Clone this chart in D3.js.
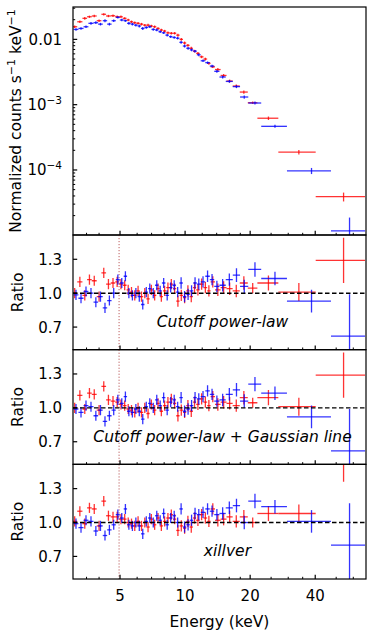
<!DOCTYPE html>
<html>
<head>
<meta charset="utf-8">
<script src="https://cdnjs.cloudflare.com/ajax/libs/d3/7.8.5/d3.min.js"></script>
<style>
  body { margin: 0; background: #fff; }
  svg { font-family: "DejaVu Sans", sans-serif; }
</style>
</head>
<body>
<div id="chart"></div>
<script>
// ---- data ----
// red spectrum: bin edges (keV), counts, ratios for the 3 models, ratio errors
var redEdges = [3.0, 3.17, 3.35, 3.52, 3.70, 3.90, 4.10, 4.31, 4.53, 4.75, 4.95, 5.15, 5.36, 5.55, 5.75, 5.95,
  6.17, 6.40, 6.62, 6.86, 7.10, 7.36, 7.63, 7.90, 8.18, 8.48, 8.79, 9.10, 9.43, 9.78, 10.12, 10.49, 10.87,
  11.25, 11.68, 12.17, 12.65, 13.12, 13.75, 14.6, 15.55, 16.6, 17.9, 19.5, 21.6, 27.0, 40.2, 68.0];
var redCounts = [0.0156, 0.0186, 0.0210, 0.0222, 0.0228, 0.0193, 0.0242, 0.0228, 0.0230, 0.0222, 0.0222, 0.0210,
  0.0198, 0.0186, 0.0180, 0.0176, 0.0171, 0.0165, 0.0165, 0.0160, 0.0156, 0.0147, 0.0139, 0.0134, 0.0126,
  0.0124, 0.0124, 0.0116, 0.0100, 0.0088, 0.0081, 0.0073, 0.0066, 0.0061, 0.0054, 0.0050, 0.0043, 0.0038,
  0.00345, 0.0028, 0.0023, 0.00193, 0.00156, 0.00107, 0.00062, 0.000187, 0.000039];
var redCutoff = [1.00, 1.10, 0.98, 1.12, 1.11, 0.97, 1.18, 1.08, 1.09, 1.10, 1.08, 1.07, 1.03, 1.01, 0.98, 1.02,
  0.97, 1.00, 0.95, 1.03, 0.98, 1.04, 0.97, 1.02, 1.05, 1.08, 1.04, 0.93, 0.98, 0.96, 1.02, 0.97, 1.05, 1.03,
  1.08, 1.05, 1.02, 1.10, 1.03, 1.05, 1.04, 1.02, 1.09, 1.045, 1.09, 1.01, 1.29];
var redGauss = [1.00, 1.11, 0.99, 1.13, 1.12, 0.98, 1.19, 1.07, 1.06, 1.05, 1.03, 1.02, 0.99, 0.98, 0.96, 1.00,
  0.96, 1.00, 0.95, 1.03, 0.98, 1.04, 0.97, 1.02, 1.05, 1.08, 1.04, 0.93, 0.98, 0.96, 1.02, 0.97, 1.05, 1.03,
  1.08, 1.05, 1.02, 1.10, 1.03, 1.05, 1.04, 1.02, 1.09, 1.045, 1.09, 1.01, 1.29];
var redXillver = [1.01, 1.10, 0.99, 1.13, 1.12, 0.97, 1.19, 1.06, 1.05, 1.05, 1.03, 1.03, 1.00, 0.99, 0.97, 1.01,
  0.97, 1.00, 0.96, 1.03, 0.98, 1.04, 0.97, 1.01, 1.04, 1.07, 1.03, 0.93, 0.97, 0.95, 1.01, 0.96, 1.04, 1.02,
  1.07, 1.04, 1.01, 1.12, 1.02, 1.03, 1.05, 1.01, 1.05, 1.00, 1.08, 1.08, 1.56];
var redErr = [0.045, 0.045, 0.045, 0.045, 0.045, 0.045, 0.045, 0.045, 0.045, 0.045, 0.045, 0.045, 0.045, 0.045,
  0.045, 0.045, 0.045, 0.045, 0.045, 0.045, 0.045, 0.045, 0.045, 0.045, 0.045, 0.045, 0.045, 0.05, 0.05, 0.05,
  0.05, 0.05, 0.05, 0.05, 0.05, 0.05, 0.05, 0.05, 0.055, 0.055, 0.055, 0.055, 0.06, 0.045, 0.067, 0.08, 0.2];

// blue spectrum
var blueEdges = [3.046, 3.21, 3.39, 3.57, 3.77, 3.96, 4.16, 4.36, 4.57, 4.78, 4.99, 5.20, 5.39, 5.60, 5.81,
  6.03, 6.25, 6.49, 6.74, 6.99, 7.26, 7.53, 7.81, 8.11, 8.42, 8.74, 9.07, 9.41, 9.76, 10.13, 10.52, 10.91,
  11.33, 11.81, 12.40, 13.01, 13.64, 14.42, 15.42, 16.62, 17.96, 19.6, 22.5, 29.6, 47.3, 68.0];
var blueCounts = [0.0142, 0.0147, 0.0156, 0.0176, 0.0180, 0.0171, 0.0193, 0.0171, 0.0193, 0.0217, 0.0198,
  0.0193, 0.0176, 0.0171, 0.0165, 0.0160, 0.0147, 0.0152, 0.0156, 0.0142, 0.0139, 0.0131, 0.0126, 0.0116,
  0.0110, 0.0107, 0.0104, 0.0090, 0.0079, 0.0073, 0.0069, 0.0066, 0.0058, 0.0047, 0.0044, 0.0039, 0.00324,
  0.00265, 0.00227, 0.00189, 0.00131, 0.00106, 0.000466, 0.000097, 0.0000117];
var blueCutoff = [0.985, 0.955, 1.015, 1.00, 0.92, 0.97, 0.87, 0.935, 1.00, 1.12, 1.09, 1.15, 1.00, 0.98, 1.00,
  0.97, 0.90, 1.01, 1.04, 1.00, 1.07, 1.02, 1.09, 0.98, 1.05, 1.07, 1.01, 1.09, 0.97, 0.99, 1.02, 1.09, 1.08,
  1.10, 1.15, 1.12, 1.06, 1.07, 1.12, 1.16, 1.06, 1.21, 1.13, 0.93, 0.62];
var blueGauss = [0.99, 0.96, 1.02, 1.01, 0.93, 0.98, 0.88, 0.93, 0.98, 1.07, 1.04, 1.10, 0.97, 0.96, 0.99,
  0.97, 0.90, 1.01, 1.04, 1.00, 1.07, 1.02, 1.09, 0.98, 1.05, 1.07, 1.01, 1.09, 0.97, 0.99, 1.02, 1.09, 1.08,
  1.10, 1.15, 1.12, 1.06, 1.07, 1.12, 1.16, 1.06, 1.21, 1.13, 0.92, 0.62];
var blueXillver = [0.99, 0.955, 1.02, 1.01, 0.925, 0.97, 0.885, 0.935, 0.98, 1.07, 1.04, 1.12, 0.98, 0.97, 1.00,
  0.97, 0.90, 1.01, 1.04, 1.00, 1.06, 1.02, 1.08, 0.98, 1.04, 1.06, 1.00, 1.12, 0.96, 0.98, 1.02, 1.08, 1.07,
  1.09, 1.12, 1.10, 1.07, 1.08, 1.13, 1.15, 1.00, 1.19, 1.14, 1.01, 0.80];
var blueErr = [0.045, 0.045, 0.045, 0.045, 0.045, 0.045, 0.045, 0.045, 0.045, 0.045, 0.045, 0.045, 0.045, 0.045,
  0.045, 0.045, 0.045, 0.045, 0.045, 0.045, 0.045, 0.045, 0.045, 0.045, 0.045, 0.045, 0.045, 0.05, 0.05, 0.05,
  0.05, 0.05, 0.05, 0.05, 0.05, 0.05, 0.05, 0.055, 0.055, 0.06, 0.06, 0.064, 0.06, 0.1, 0.37];

var majorTicks = [5, 10, 20, 40];
var minorTicks = [3.5, 4, 6, 7, 8, 9, 12, 14, 16, 18, 25, 30, 35, 50, 60];
var ratioTicks = [0.7, 1.0, 1.3];
var modelNames = ["Cutoff power-law", "Cutoff power-law + Gaussian line", "xillver"];
var lineEnergy = 4.95;   // dotted marker line (keV)

// ---- layout ----
var svgWidth = 374, svgHeight = 639;
var left = 73, width = 293;
var topY = 7, topHeight = 228, ratioHeight = 114.67;

var svg = d3.select("#chart")
  .append("svg")
  .attr("width", svgWidth)
  .attr("height", svgHeight);

var xScale = d3.scaleLog().domain([3.03, 68.7]).range([0, width]);

var red = "#ff0000", blue = "#0000ff";

// draw error-bar crosses for one spectrum
function drawCrosses(g, edges, vals, errs, yScale, color, clipId) {
  var pts = vals.map(function(v, i) {
    return {lo: edges[i], hi: edges[i + 1], e: (edges[i] + edges[i + 1]) / 2, v: v, err: errs[i]};
  });
  var grp = g.append("g")
    .attr("clip-path", "url(#" + clipId + ")")
    .attr("stroke", color)
    .attr("stroke-opacity", 0.8)
    .attr("stroke-width", 1.3);

  grp.selectAll(".hbar")
    .data(pts)
    .enter()
    .append("line")
    .attr("x1", d => xScale(d.lo))
    .attr("x2", d => xScale(d.hi))
    .attr("y1", d => yScale(d.v))
    .attr("y2", d => yScale(d.v));

  grp.selectAll(".vbar")
    .data(pts)
    .enter()
    .append("line")
    .attr("x1", d => xScale(d.e))
    .attr("x2", d => xScale(d.e))
    .attr("y1", d => yScale(Math.max(d.v - d.err, 1e-7)))
    .attr("y2", d => yScale(d.v + d.err));
}

// x ticks pointing inward from the bottom axis
function drawXTicks(g, h, showLabels) {
  g.selectAll(".xminor")
    .data(minorTicks)
    .enter()
    .append("line")
    .attr("x1", d => xScale(d)).attr("x2", d => xScale(d))
    .attr("y1", h).attr("y2", h - 2.2)
    .attr("stroke", "#000").attr("stroke-width", 1);
  g.selectAll(".xmajor")
    .data(majorTicks)
    .enter()
    .append("line")
    .attr("x1", d => xScale(d)).attr("x2", d => xScale(d))
    .attr("y1", h).attr("y2", h - 4.2)
    .attr("stroke", "#000").attr("stroke-width", 1.2);
  if (showLabels) {
    g.selectAll(".xlabel")
      .data(majorTicks)
      .enter()
      .append("text")
      .attr("x", d => xScale(d))
      .attr("y", h + 22.5)
      .attr("text-anchor", "middle")
      .attr("font-size", 15)
      .text(d => d);
  }
}

function addClip(id, h) {
  svg.append("clipPath").attr("id", id)
    .append("rect").attr("x", 0).attr("y", 0).attr("width", width).attr("height", h);
}

// ---- top panel: counts spectrum ----
var yTop = d3.scaleLog().domain([1.01e-5, 0.0313]).range([topHeight, 0]);
addClip("clip0", topHeight);
var topGroup = svg.append("g").attr("transform", `translate(${left}, ${topY})`);

drawCrosses(topGroup, redEdges, redCounts,
  redCounts.map((v, i) => v * redErr[i] / redCutoff[i]), yTop, red, "clip0");
drawCrosses(topGroup, blueEdges, blueCounts,
  blueCounts.map((v, i) => v * blueErr[i] / blueCutoff[i]), yTop, blue, "clip0");

// log minor ticks on y
var yMinor = [];
[-5, -4, -3, -2].forEach(function(p) {
  for (var m = 2; m <= 9; m++) {
    var v = m * Math.pow(10, p);
    if (v > 1.01e-5 && v < 0.0313) yMinor.push(v);
  }
});
topGroup.selectAll(".yminor")
  .data(yMinor)
  .enter()
  .append("line")
  .attr("x1", 0).attr("x2", 2.2)
  .attr("y1", d => yTop(d)).attr("y2", d => yTop(d))
  .attr("stroke", "#000").attr("stroke-width", 1);

var yMajor = [0.01, 1e-3, 1e-4];
topGroup.selectAll(".ymajor")
  .data(yMajor)
  .enter()
  .append("line")
  .attr("x1", 0).attr("x2", 4.2)
  .attr("y1", d => yTop(d)).attr("y2", d => yTop(d))
  .attr("stroke", "#000").attr("stroke-width", 1.2);

var yLab = topGroup.selectAll(".ylab")
  .data(yMajor)
  .enter()
  .append("text")
  .attr("x", -11)
  .attr("y", d => yTop(d) + 5.5)
  .attr("text-anchor", "end")
  .attr("font-size", 15);
yLab.each(function(d) {
  var t = d3.select(this);
  if (d === 0.01) {
    t.text("0.01");
  } else {
    t.append("tspan").text("10");
    t.append("tspan").attr("dy", -6.5).attr("font-size", 10.5).text("\u2212" + Math.round(-Math.log10(d)));
  }
});

topGroup.append("rect")
  .attr("width", width).attr("height", topHeight)
  .attr("fill", "none").attr("stroke", "#000").attr("stroke-width", 1.2);
drawXTicks(topGroup, topHeight, false);

// y axis title
var yTitle = svg.append("text")
  .attr("transform", `translate(21, ${topY + topHeight / 2}) rotate(-90)`)
  .attr("text-anchor", "middle")
  .attr("font-size", 15.5);
yTitle.append("tspan").text("Normalized counts s");
yTitle.append("tspan").attr("dy", -6.5).attr("font-size", 11).text("\u22121");
yTitle.append("tspan").attr("dy", 6.5).text(" keV");
yTitle.append("tspan").attr("dy", -6.5).attr("font-size", 11).text("\u22121");

// ---- ratio panels ----
var yRatio = d3.scaleLinear().domain([0.5, 1.515]).range([ratioHeight, 0]);
var redRatios = [redCutoff, redGauss, redXillver];
var blueRatios = [blueCutoff, blueGauss, blueXillver];

modelNames.forEach(function(name, k) {
  var py = topY + topHeight + k * ratioHeight;
  var clipId = "clip" + (k + 1);
  addClip(clipId, ratioHeight);
  var g = svg.append("g").attr("transform", `translate(${left}, ${py})`);

  // dotted line at the iron line energy
  g.append("line")
    .attr("x1", xScale(lineEnergy)).attr("x2", xScale(lineEnergy))
    .attr("y1", 0).attr("y2", ratioHeight)
    .attr("stroke", "#a52a2a").attr("stroke-opacity", 0.75)
    .attr("stroke-width", 1).attr("stroke-dasharray", "1.2,1.8");

  drawCrosses(g, redEdges, redRatios[k], redErr, yRatio, red, clipId);
  drawCrosses(g, blueEdges, blueRatios[k], blueErr, yRatio, blue, clipId);

  // unity line
  g.append("line")
    .attr("x1", 0).attr("x2", width)
    .attr("y1", yRatio(1)).attr("y2", yRatio(1))
    .attr("stroke", "#000").attr("stroke-width", 1.4)
    .attr("stroke-dasharray", "4.5,2.5");

  g.selectAll(".rtick")
    .data(ratioTicks)
    .enter()
    .append("line")
    .attr("x1", 0).attr("x2", 4.2)
    .attr("y1", d => yRatio(d)).attr("y2", d => yRatio(d))
    .attr("stroke", "#000").attr("stroke-width", 1.2);

  g.selectAll(".rlab")
    .data(ratioTicks)
    .enter()
    .append("text")
    .attr("x", -11)
    .attr("y", d => yRatio(d) + 5.5)
    .attr("text-anchor", "end")
    .attr("font-size", 15)
    .text(d => d.toFixed(1));

  g.append("text")
    .attr("x", xScale(k === 2 ? 15.7 : 14.9))
    .attr("y", yRatio(0.7))
    .attr("text-anchor", "middle")
    .attr("font-size", 15.5)
    .attr("font-style", "italic")
    .text(name);

  g.append("rect")
    .attr("width", width).attr("height", ratioHeight)
    .attr("fill", "none").attr("stroke", "#000").attr("stroke-width", 1.2);
  drawXTicks(g, ratioHeight, k === 2);

  svg.append("text")
    .attr("transform", `translate(23, ${py + ratioHeight / 2}) rotate(-90)`)
    .attr("text-anchor", "middle")
    .attr("font-size", 15.5)
    .text("Ratio");
});

// x axis title
svg.append("text")
  .attr("x", left + width / 2)
  .attr("y", 627)
  .attr("text-anchor", "middle")
  .attr("font-size", 15.5)
  .text("Energy (keV)");
</script>
</body>
</html>
